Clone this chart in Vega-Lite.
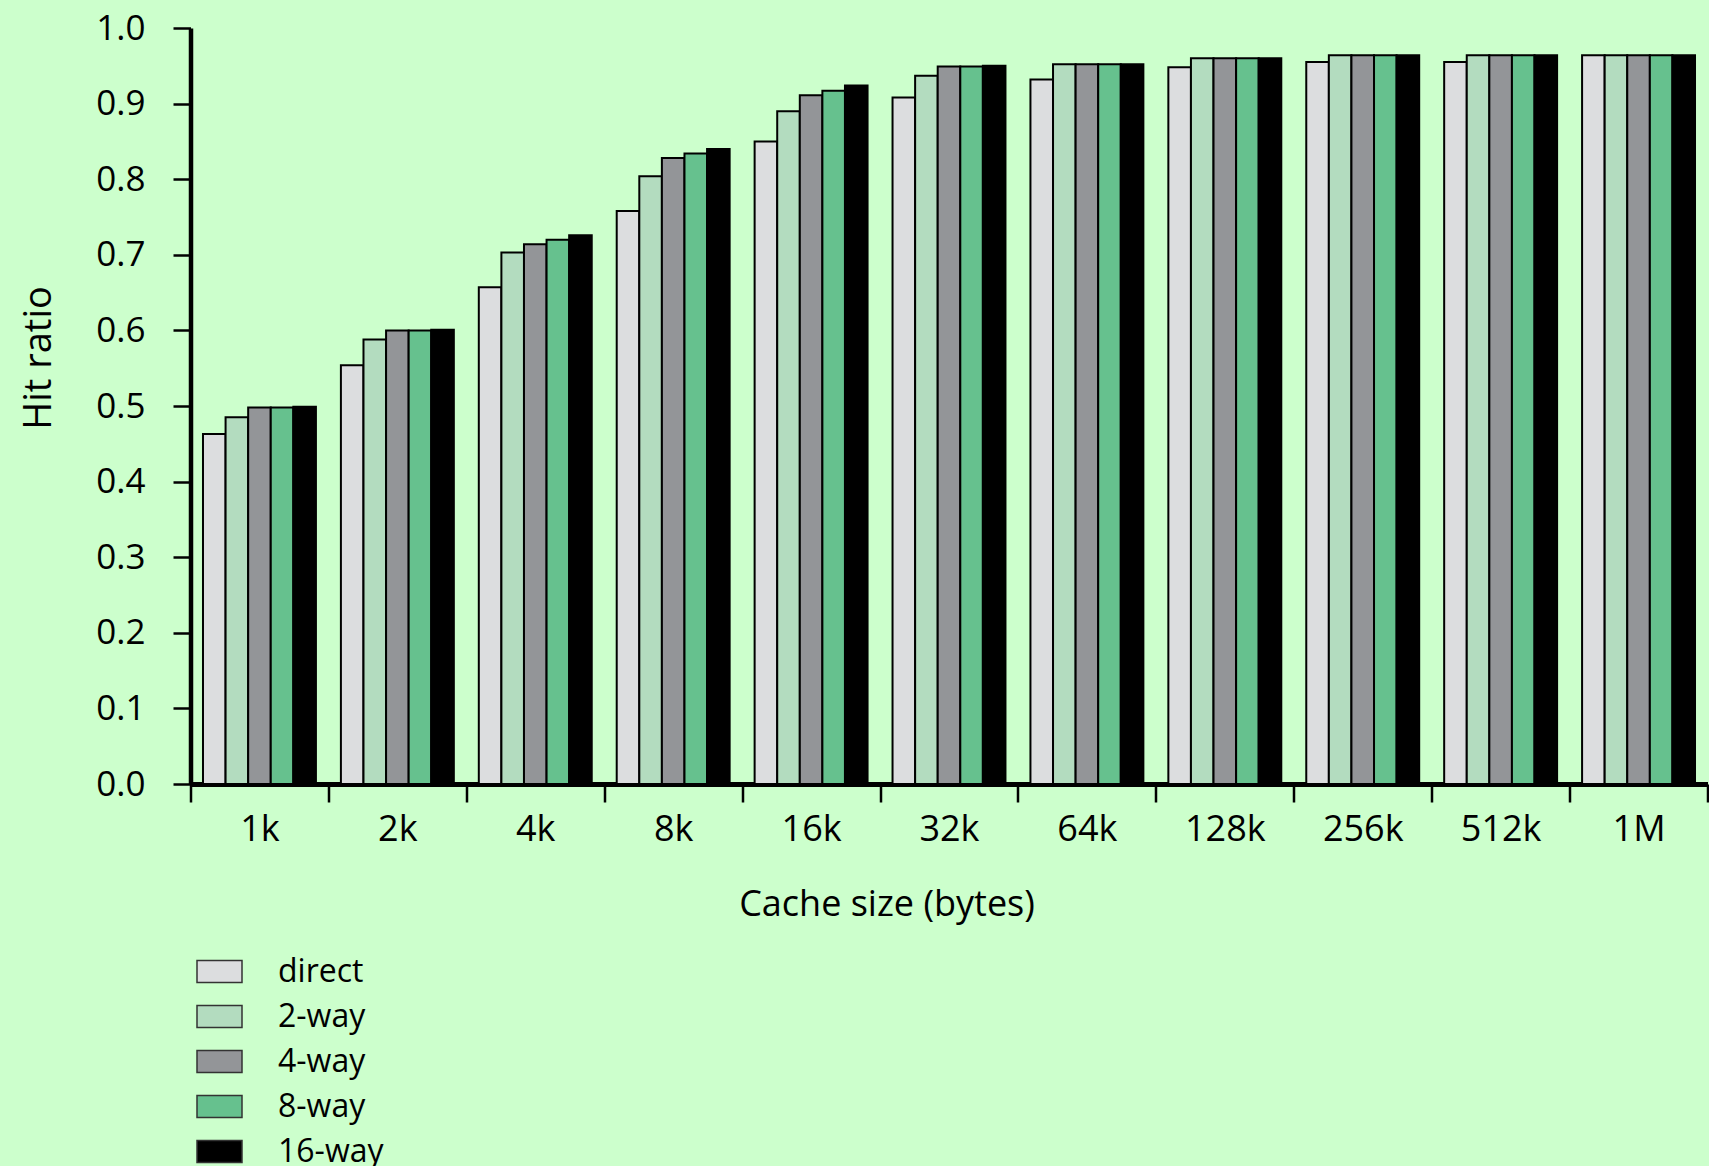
{
  "$schema": "https://vega.github.io/schema/vega-lite/v6.json",
  "width": 1517,
  "height": 756,
  "autosize": {"type": "none"},
  "padding": {"left": 190.5, "top": 28, "right": 1.5, "bottom": 382},
  "background": "#ccffcc",
  "config": {"view": {"stroke": null}, "font": "Open Sans"},
  "data": {
    "values": [
      {"size": "1k", "assoc": "direct", "hit": 0.463},
      {"size": "1k", "assoc": "2-way", "hit": 0.485},
      {"size": "1k", "assoc": "4-way", "hit": 0.498},
      {"size": "1k", "assoc": "8-way", "hit": 0.498},
      {"size": "1k", "assoc": "16-way", "hit": 0.499},
      {"size": "2k", "assoc": "direct", "hit": 0.554},
      {"size": "2k", "assoc": "2-way", "hit": 0.588},
      {"size": "2k", "assoc": "4-way", "hit": 0.600},
      {"size": "2k", "assoc": "8-way", "hit": 0.600},
      {"size": "2k", "assoc": "16-way", "hit": 0.601},
      {"size": "4k", "assoc": "direct", "hit": 0.657},
      {"size": "4k", "assoc": "2-way", "hit": 0.703},
      {"size": "4k", "assoc": "4-way", "hit": 0.714},
      {"size": "4k", "assoc": "8-way", "hit": 0.720},
      {"size": "4k", "assoc": "16-way", "hit": 0.726},
      {"size": "8k", "assoc": "direct", "hit": 0.758},
      {"size": "8k", "assoc": "2-way", "hit": 0.804},
      {"size": "8k", "assoc": "4-way", "hit": 0.828},
      {"size": "8k", "assoc": "8-way", "hit": 0.834},
      {"size": "8k", "assoc": "16-way", "hit": 0.840},
      {"size": "16k", "assoc": "direct", "hit": 0.850},
      {"size": "16k", "assoc": "2-way", "hit": 0.890},
      {"size": "16k", "assoc": "4-way", "hit": 0.911},
      {"size": "16k", "assoc": "8-way", "hit": 0.917},
      {"size": "16k", "assoc": "16-way", "hit": 0.924},
      {"size": "32k", "assoc": "direct", "hit": 0.908},
      {"size": "32k", "assoc": "2-way", "hit": 0.937},
      {"size": "32k", "assoc": "4-way", "hit": 0.949},
      {"size": "32k", "assoc": "8-way", "hit": 0.949},
      {"size": "32k", "assoc": "16-way", "hit": 0.950},
      {"size": "64k", "assoc": "direct", "hit": 0.932},
      {"size": "64k", "assoc": "2-way", "hit": 0.952},
      {"size": "64k", "assoc": "4-way", "hit": 0.952},
      {"size": "64k", "assoc": "8-way", "hit": 0.952},
      {"size": "64k", "assoc": "16-way", "hit": 0.952},
      {"size": "128k", "assoc": "direct", "hit": 0.948},
      {"size": "128k", "assoc": "2-way", "hit": 0.960},
      {"size": "128k", "assoc": "4-way", "hit": 0.960},
      {"size": "128k", "assoc": "8-way", "hit": 0.960},
      {"size": "128k", "assoc": "16-way", "hit": 0.960},
      {"size": "256k", "assoc": "direct", "hit": 0.955},
      {"size": "256k", "assoc": "2-way", "hit": 0.964},
      {"size": "256k", "assoc": "4-way", "hit": 0.964},
      {"size": "256k", "assoc": "8-way", "hit": 0.964},
      {"size": "256k", "assoc": "16-way", "hit": 0.964},
      {"size": "512k", "assoc": "direct", "hit": 0.955},
      {"size": "512k", "assoc": "2-way", "hit": 0.964},
      {"size": "512k", "assoc": "4-way", "hit": 0.964},
      {"size": "512k", "assoc": "8-way", "hit": 0.964},
      {"size": "512k", "assoc": "16-way", "hit": 0.964},
      {"size": "1M", "assoc": "direct", "hit": 0.964},
      {"size": "1M", "assoc": "2-way", "hit": 0.964},
      {"size": "1M", "assoc": "4-way", "hit": 0.964},
      {"size": "1M", "assoc": "8-way", "hit": 0.964},
      {"size": "1M", "assoc": "16-way", "hit": 0.964}
    ]
  },
  "mark": {"type": "bar", "stroke": "#000000", "strokeWidth": 2},
  "encoding": {
    "x": {
      "field": "size",
      "type": "nominal",
      "sort": ["1k", "2k", "4k", "8k", "16k", "32k", "64k", "128k", "256k", "512k", "1M"],
      "scale": {"paddingInner": 0, "paddingOuter": 0},
      "axis": {
        "title": "Cache size (bytes)",
        "tickBand": "extent",
        "domainColor": "#000000",
        "domainWidth": 5,
        "tickColor": "#000000",
        "tickWidth": 2.5,
        "tickSize": 18,
        "labelFont": "Open Sans",
        "labelFontSize": 36,
        "labelColor": "#000000",
        "labelPadding": 10,
        "labelAngle": 0,
        "titleFont": "Open Sans",
        "titleFontSize": 36,
        "titleFontWeight": "normal",
        "titleColor": "#000000",
        "titleX": 696,
        "titleY": 131,
        "titleBaseline": "alphabetic",
        "titleAlign": "center"
      }
    },
    "xOffset": {
      "field": "assoc",
      "type": "nominal",
      "sort": ["direct", "2-way", "4-way", "8-way", "16-way"],
      "scale": {"paddingInner": 0, "paddingOuter": 0.553}
    },
    "y": {
      "field": "hit",
      "type": "quantitative",
      "scale": {"domain": [0, 1], "nice": false},
      "axis": {
        "title": "Hit ratio",
        "values": [0, 0.1, 0.2, 0.3, 0.4, 0.5, 0.6, 0.7, 0.8, 0.9, 1.0],
        "format": ".1f",
        "grid": false,
        "domainColor": "#000000",
        "domainWidth": 4.5,
        "tickColor": "#000000",
        "tickWidth": 2.5,
        "tickSize": 17.5,
        "labelFont": "Open Sans",
        "labelFontSize": 35,
        "labelColor": "#000000",
        "labelPadding": 28,
        "titleFont": "Open Sans",
        "titleFontSize": 38,
        "titleFontWeight": "normal",
        "titleColor": "#000000",
        "titleAngle": -90,
        "titleX": -140.5,
        "titleY": 329.5,
        "titleBaseline": "alphabetic",
        "titleAlign": "center"
      }
    },
    "fill": {
      "field": "assoc",
      "type": "nominal",
      "scale": {
        "domain": ["direct", "2-way", "4-way", "8-way", "16-way"],
        "range": ["#dcdddf", "#b3dcbf", "#939598", "#66c18e", "#000000"]
      },
      "legend": {
        "orient": "none",
        "legendX": 5.5,
        "legendY": 920,
        "title": null,
        "padding": 0,
        "symbolType": "M-1,-0.489H1V0.489H-1Z",
        "symbolSize": 2025,
        "symbolStrokeColor": "#333333",
        "symbolStrokeWidth": 1.5,
        "labelFont": "Open Sans",
        "labelFontSize": 32,
        "labelColor": "#000000",
        "labelOffset": 35,
        "labelBaseline": "middle",
        "rowPadding": 5
      }
    }
  }
}
